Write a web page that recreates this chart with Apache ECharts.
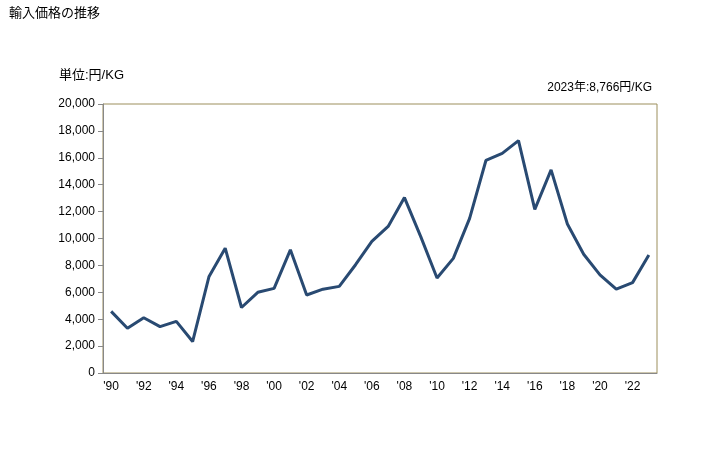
<!DOCTYPE html>
<html><head><meta charset="utf-8">
<script src="https://cdn.jsdelivr.net/npm/echarts@6/dist/echarts.min.js"></script>
<style>html,body{margin:0;padding:0;background:#fff}#c{width:728px;height:450px}</style>
</head><body><div id="c"></div>
<script>
const years = ['1990','1991','1992','1993','1994','1995','1996','1997','1998','1999','2000','2001','2002','2003','2004','2005','2006','2007','2008','2009','2010','2011','2012','2013','2014','2015','2016','2017','2018','2019','2020','2021','2022','2023'];
const prices = [4580,3330,4110,3450,3840,2340,7150,9280,4870,6000,6290,9160,5800,6230,6440,8050,9780,10900,13040,10140,7060,8520,11500,15800,16330,17280,12170,15100,11080,8830,7300,6230,6720,8766];
const yTicks = {min:0, max:20000, interval:2000};
const titleText = '輸入価格の推移';
const unitText = '単位:円/KG';
const noteText = '2023年:8,766円/KG';
const font = '"Liberation Sans", "Noto Sans CJK JP", sans-serif';
const chart = echarts.init(document.getElementById('c'));
chart.setOption({
  animation:false,
  textStyle:{fontFamily:font},
  title:[
    {text:titleText,left:4,top:2,textStyle:{fontSize:13,fontWeight:'normal',color:'#000',fontFamily:font}},
    {text:unitText,left:54,top:64,textStyle:{fontSize:13,fontWeight:'normal',color:'#000',fontFamily:font}},
    {text:noteText,right:71,top:77,textStyle:{fontSize:12,fontWeight:'normal',color:'#000',fontFamily:font}}
  ],
  grid:{left:103,right:71,top:104,bottom:77,show:true,borderColor:'#9c8f5c',borderWidth:1,backgroundColor:'transparent'},
  xAxis:{type:'category',data:years,boundaryGap:true,
    axisLine:{lineStyle:{color:'#888',width:1}},
    axisTick:{show:false},
    axisLabel:{interval:1,color:'#000',fontSize:12,margin:8,fontFamily:font,
      formatter:v=>"'"+v.slice(2)}},
  yAxis:{type:'value',min:yTicks.min,max:yTicks.max,interval:yTicks.interval,
    axisLine:{show:true,lineStyle:{color:'#888',width:1}},
    axisTick:{show:true,length:5,lineStyle:{color:'#888'}},
    splitLine:{show:false},
    axisLabel:{color:'#000',fontSize:12,margin:8,fontFamily:font,
      formatter:v=>v.toLocaleString('en-US')}},
  series:[{type:'line',data:prices,symbol:'none',lineStyle:{color:'#294a72',width:3}}]
});
</script></body></html>
